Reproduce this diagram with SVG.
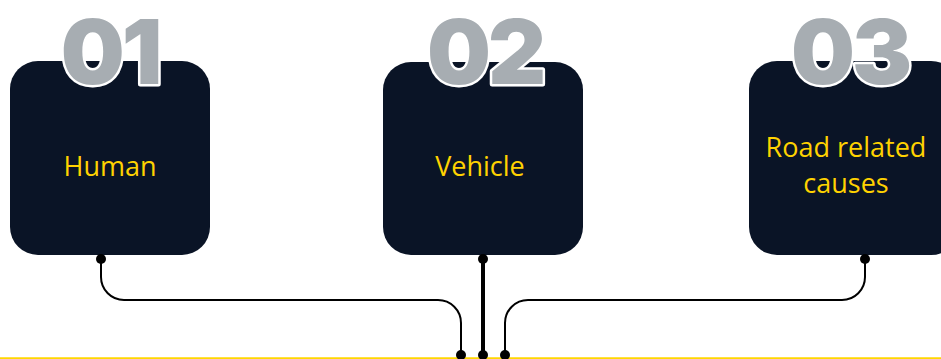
<svg xmlns="http://www.w3.org/2000/svg" width="941" height="359" viewBox="0 0 941 359">
<defs>
<style>
.box{fill:#0a1426;}
.num{font-family:Inter,"Liberation Sans",sans-serif;font-weight:900;font-size:90px;fill:#a7adb2;stroke:#ffffff;stroke-width:5px;paint-order:stroke;stroke-linejoin:round;text-anchor:middle;letter-spacing:-3px;}
.lbl{font-family:"Open Sans","Noto Sans",sans-serif;font-size:27px;font-weight:500;fill:#ffd200;text-anchor:middle;}
.wire{fill:none;stroke:#000;stroke-width:2;}
.thick{stroke-width:4;}
.dot{fill:#000;}
</style>
</defs>
<rect width="941" height="359" fill="#ffffff"/>
<g id="node-human">
<rect class="box" x="10" y="61" width="200" height="194" rx="28"/>
<text class="num" x="110" y="84">01</text>
<text class="lbl" x="110" y="176">Human</text>
</g>
<g id="node-vehicle">
<rect class="box" x="383" y="62" width="200" height="193" rx="28"/>
<text class="num" x="485" y="84">02</text>
<text class="lbl" x="480" y="176">Vehicle</text>
</g>
<g id="node-road">
<rect class="box" x="749" y="61" width="210" height="194" rx="28"/>
<text class="num" x="850" y="84">03</text>
<text class="lbl" x="846" y="157">Road related</text>
<text class="lbl" x="846" y="193">causes</text>
</g>
<g id="connectors">
<line x1="0" y1="358.3" x2="941" y2="358.3" stroke="#ffd700" stroke-width="2"/>
<path class="wire" d="M101 259 V277 A23 23 0 0 0 124 300 H438 A23 23 0 0 1 461 323 V355"/>
<path class="wire" d="M505 355 V323 A23 23 0 0 1 528 300 H842 A23 23 0 0 0 865 277 V259"/>
<path class="wire thick" d="M483 259 V355"/>
<circle class="dot" cx="101" cy="259" r="5"/>
<circle class="dot" cx="483" cy="259" r="5"/>
<circle class="dot" cx="865" cy="259" r="5"/>
<circle class="dot" cx="461" cy="355" r="5"/>
<circle class="dot" cx="483" cy="355" r="5"/>
<circle class="dot" cx="505" cy="355" r="5"/>
</g>
</svg>
